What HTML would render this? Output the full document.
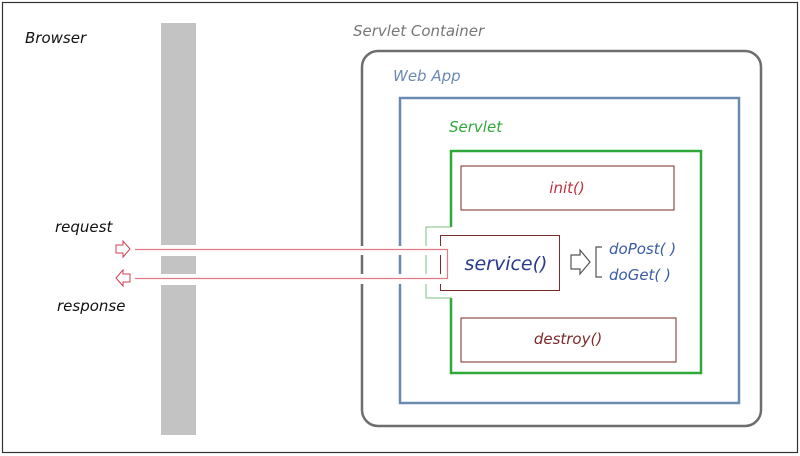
<!DOCTYPE html>
<html><head><meta charset="utf-8"><style>
html,body{margin:0;padding:0;background:#fff;}
svg{display:block;}
text{font-family:"DejaVu Sans","Liberation Sans",sans-serif;font-style:italic;}
</style></head><body>
<svg width="800" height="456" viewBox="0 0 800 456" xmlns="http://www.w3.org/2000/svg">
<rect x="2.5" y="2.5" width="795" height="450" fill="#fff" stroke="#333" stroke-width="1.2"/>
<rect x="161" y="23" width="35" height="412" fill="#c3c3c3"/>
<rect x="161" y="245" width="35" height="11" fill="#fff"/>
<rect x="161" y="274" width="35" height="11" fill="#fff"/>
<rect x="362" y="51" width="399" height="375" rx="16" fill="none" stroke="#6e6e6e" stroke-width="2.5"/>
<rect x="400" y="98" width="339" height="305" fill="none" stroke="#6a8ab0" stroke-width="2.5"/>
<path d="M451 227 V151 H701 V373 H451 V298" fill="none" stroke="#2fa83a" stroke-width="2.5"/>
<path d="M451 227 H426 V298 H451" fill="none" stroke="#7fbf85" stroke-width="1"/>
<rect x="355" y="246" width="52" height="9" fill="#fff"/>
<rect x="355" y="274" width="52" height="10" fill="#fff"/>
<rect x="420" y="246" width="12" height="9" fill="#fff"/>
<rect x="420" y="274" width="12" height="10" fill="#fff"/>
<rect x="461" y="166" width="213" height="44" fill="none" stroke="#7a2a2a" stroke-width="1"/>
<rect x="461" y="318" width="215" height="44" fill="none" stroke="#7a2a2a" stroke-width="1"/>
<rect x="440.5" y="235.5" width="119" height="55" fill="#fff" stroke="#7a2a2a" stroke-width="1"/>
<rect x="436" y="246" width="10" height="9" fill="#fff"/>
<rect x="436" y="274" width="10" height="10" fill="#fff"/>
<path d="M135 249.5 H447.5 V278.5 H135" fill="none" stroke="#e07a85" stroke-width="1.2"/>
<path d="M116 245 H123 V241 L130 249 L123 257 V253 H116 Z" fill="#fff" stroke="#d04050" stroke-width="1"/>
<path d="M130 274 H123 V270 L116 278 L123 286 V282 H130 Z" fill="#fff" stroke="#d04050" stroke-width="1"/>
<path d="M571 255 H580 V250 L590 262 L580 274 V269 H571 Z" fill="#fff" stroke="#555" stroke-width="1.2"/>
<path d="M602 247 H596 V277 H602" fill="none" stroke="#555" stroke-width="1.2"/>
<text x="25" y="43" font-size="15" fill="#111">Browser</text>
<text x="353" y="36" font-size="15" fill="#777">Servlet Container</text>
<text x="393" y="81" font-size="15" fill="#6a8ab0">Web App</text>
<text x="449" y="132" font-size="15" fill="#2fa83a">Servlet</text>
<text x="55" y="232" font-size="15" fill="#111">request</text>
<text x="57" y="311" font-size="15" fill="#111">response</text>
<text x="567" y="193" font-size="15" fill="#c03040" text-anchor="middle">init()</text>
<text x="568" y="344" font-size="15" fill="#7a2a2a" text-anchor="middle">destroy()</text>
<text x="506" y="270" font-size="19" fill="#2a3a8a" text-anchor="middle">service()</text>
<text x="609" y="254" font-size="15" fill="#3a5aa8">doPost( )</text>
<text x="609" y="280" font-size="15" fill="#3a5aa8">doGet( )</text>
</svg>
</body></html>
